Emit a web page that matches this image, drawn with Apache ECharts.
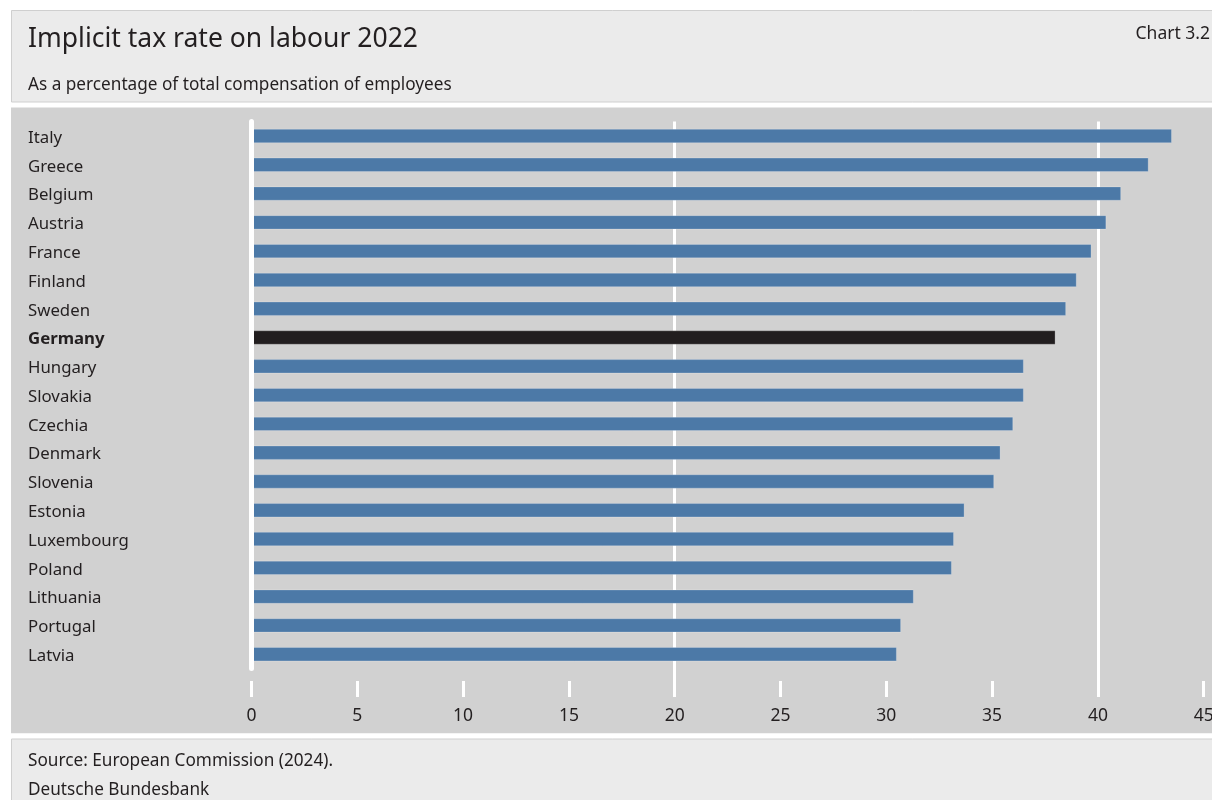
<!DOCTYPE html>
<html>
<head>
<meta charset="utf-8">
<script src="https://cdn.jsdelivr.net/npm/echarts@6/dist/echarts.min.js"></script>
<style>
  html, body { margin: 0; padding: 0; background: #ffffff; }
  #chart { width: 1212px; height: 800px; }
</style>
</head>
<body>
<div id="chart"></div>
<script>
// Implicit tax rate on labour, 2022, per cent of total compensation of employees
const countries = [
  'Italy', 'Greece', 'Belgium', 'Austria', 'France', 'Finland', 'Sweden',
  'Germany', 'Hungary', 'Slovakia', 'Czechia', 'Denmark', 'Slovenia',
  'Estonia', 'Luxembourg', 'Poland', 'Lithuania', 'Portugal', 'Latvia'
];
const rates = [
  43.5, 42.4, 41.1, 40.4, 39.7, 39.0, 38.5,
  38.0, 36.5, 36.5, 36.0, 35.4, 35.1,
  33.7, 33.2, 33.1, 31.3, 30.7, 30.5
];
const highlighted = 'Germany';
const axisMin = 0;
const axisMax = 45;
const axisStep = 5;
const gridLineValues = [20, 40];

const FONT = '"Noto Sans", sans-serif';
const TEXT = '#231f20';
const BLUE = '#4c79a7';
const DARK = '#221e1f';

// plot geometry
const W = 1212;
const plotLeft = 251.5;
const plotRight = 1203.7;
const pxPerUnit = (plotRight - plotLeft) / (axisMax - axisMin);
const plotTop = 121.6;
const bandH = 28.79;
const plotHeight = bandH * countries.length;
const tickBottom = 697;

const gl0 = plotLeft + (gridLineValues[0] - axisMin) * pxPerUnit;
const gl1 = plotLeft + (gridLineValues[1] - axisMin) * pxPerUnit;

const chart = echarts.init(document.getElementById('chart'), null, { renderer: 'canvas' });

chart.setOption({
  animation: false,
  backgroundColor: '#ffffff',
  textStyle: { fontFamily: FONT, color: TEXT },
  graphic: [
    // header panel
    { type: 'rect', z: -10, shape: { x: 11.5, y: 10.5, width: 1210, height: 91.5 },
      style: { fill: '#ebebeb', stroke: '#cfcfcf', lineWidth: 1 } },
    // plot panel
    { type: 'rect', z: -10, shape: { x: 11, y: 107.5, width: 1210, height: 625.8 },
      style: { fill: '#d1d1d1' } },
    // footer panel
    { type: 'rect', z: -10, shape: { x: 11.5, y: 739, width: 1210, height: 80 },
      style: { fill: '#ebebeb', stroke: '#cfcfcf', lineWidth: 1 } },
    { type: 'text', left: 28, top: 25.5, style: {
        text: 'Implicit tax rate on labour 2022', fontSize: 26.5, fontFamily: FONT, fill: TEXT } },
    { type: 'text', right: 2, top: 25.5, style: {
        text: 'Chart 3.2', fontSize: 17.5, fontFamily: FONT, fill: TEXT, textAlign: 'right' } },
    { type: 'text', left: 28, top: 76.5, style: {
        text: 'As a percentage of total compensation of employees', fontSize: 17.2, fontFamily: FONT, fill: TEXT } },
    { type: 'text', left: 28, top: 753, style: {
        text: 'Source: European Commission (2024).', fontSize: 17.2, fontFamily: FONT, fill: TEXT } },
    { type: 'text', left: 28, top: 781.5, style: {
        text: 'Deutsche Bundesbank', fontSize: 17.2, fontFamily: FONT, fill: TEXT } }
  ],
  grid: [
    { left: plotLeft, right: W - plotRight, top: plotTop, height: plotHeight,
      containLabel: false, outerBoundsMode: 'none' },
    { left: gl0, right: W - gl1, top: plotTop, height: tickBottom - plotTop,
      containLabel: false, outerBoundsMode: 'none' }
  ],
  xAxis: [
    {
      type: 'value', gridIndex: 0, min: axisMin, max: axisMax, interval: axisStep,
      position: 'bottom', offset: 12.4,
      axisLine: { show: false },
      axisTick: { show: true, length: 16, lineStyle: { color: '#ffffff', width: 3 } },
      axisLabel: { fontSize: 17.5, color: TEXT, fontFamily: FONT, margin: 26, hideOverlap: false },
      splitLine: { show: false }
    },
    {
      type: 'value', gridIndex: 1, min: gridLineValues[0], max: gridLineValues[1],
      interval: gridLineValues[1] - gridLineValues[0],
      axisLine: { show: false }, axisTick: { show: false }, axisLabel: { show: false },
      splitLine: { show: true, lineStyle: { color: '#ffffff', width: 3 } }
    }
  ],
  yAxis: [
    {
      type: 'category', gridIndex: 0, data: countries, inverse: true, z: 5,
      axisLine: { show: true, onZero: false, lineStyle: { color: '#ffffff', width: 5 } },
      axisTick: { show: false },
      axisLabel: {
        align: 'left', margin: plotLeft - 28, fontSize: 16.8, color: TEXT, fontFamily: FONT,
        padding: [4, 0, 0, 0],
        formatter: (v) => v === highlighted ? '{b|' + v + '}' : v,
        rich: { b: { fontWeight: 'bold', fontSize: 16.8, color: TEXT, fontFamily: FONT } }
      },
      splitLine: { show: false }
    },
    { type: 'value', gridIndex: 1, show: false, min: 0, max: 1 }
  ],
  series: [
    {
      type: 'bar', xAxisIndex: 0, yAxisIndex: 0, barWidth: '50%', z: 3,
      data: rates.map((v, i) => ({
        value: v,
        itemStyle: { color: countries[i] === highlighted ? DARK : BLUE }
      })),
      itemStyle: { borderColor: 'rgba(255,255,255,0.22)', borderWidth: 1 }
    }
  ]
});
</script>
</body>
</html>
